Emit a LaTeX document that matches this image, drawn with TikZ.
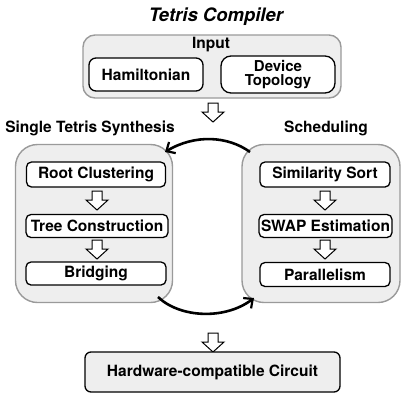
\documentclass[tikz,border=0pt]{standalone}
\usepackage{fontspec}
\setmainfont{TeX Gyre Heros}
\usetikzlibrary{arrows.meta}
\definecolor{boxgray}{HTML}{EEEEEE}
\definecolor{edgegray}{HTML}{9A9A9A}
\begin{document}
\begin{tikzpicture}[x=1pt,y=-1pt,
  outerbox/.style={draw=edgegray,fill=boxgray,line width=1.4pt,rounded corners=22pt},
  innerbox/.style={draw=black,fill=white,line width=1.3pt,rounded corners=5pt,font=\bfseries\fontsize{15.5}{13}\selectfont,align=center,inner sep=0pt},
  lbl/.style={font=\bfseries\fontsize{15.5}{13}\selectfont,inner sep=0pt},
  blockarrow/.pic={\draw[fill=white,line width=1pt,line join=miter] (-5,0) -- (5,0) -- (5,9) -- (11,9) -- (0,19) -- (-11,9) -- (-5,9) -- cycle;},
  flow/.style={line width=2.6pt,-{Straight Barb[length=7pt,width=13pt,line width=2.2pt]}}
]
\useasboundingbox (0,0) rectangle (404,394);
% title
\node[font=\bfseries\itshape\fontsize{18.5}{19}\selectfont] (title) at (216,17) {Tetris Compiler};
% input box
\node[outerbox,rounded corners=12pt,minimum width=258pt,minimum height=63pt] (input) at (212,66.5) {};
\node[lbl] (inputlbl) at (211,45) {Input};
\node[innerbox,minimum width=114pt,minimum height=33pt,rounded corners=7pt] (ham) at (146,74.5) {Hamiltonian};
\node[innerbox,minimum width=114pt,minimum height=37pt,rounded corners=10pt,font=\bfseries\fontsize{15}{14.5}\selectfont] (dev) at (278,74.5) {Device\\Topology};
\pic at (213,103) {blockarrow};
% section labels
\node[lbl] (synlbl) at (90,128) {Single Tetris Synthesis};
\node[lbl] (schlbl) at (326,128) {Scheduling};
% left big box
\node[outerbox,minimum width=157pt,minimum height=158pt] (left) at (94,223.5) {};
\node[innerbox,minimum width=139pt,minimum height=25pt] (root) at (96,174.5) {Root Clustering};
\node[innerbox,minimum width=142pt,minimum height=23pt] (tree) at (97,226) {Tree Construction};
\node[innerbox,minimum width=140pt,minimum height=23pt] (bridge) at (96,273.5) {Bridging};
\pic at (97,191) {blockarrow};
\pic at (97,240) {blockarrow};
% right big box
\node[outerbox,minimum width=158pt,minimum height=158pt] (right) at (321,223.5) {};
\node[innerbox,minimum width=130pt,minimum height=25pt] (sim) at (325,174.5) {Similarity Sort};
\node[innerbox,minimum width=133pt,minimum height=23pt] (swap) at (325.5,226) {SWAP Estimation};
\node[innerbox,minimum width=130pt,minimum height=24pt] (par) at (325,274.5) {Parallelism};
\pic at (325,191) {blockarrow};
\pic at (325,240) {blockarrow};
% loop arrows
\coordinate (rtop) at (250,152);
\coordinate (ltop) at (165,152);
\coordinate (lbot) at (158,297);
\coordinate (rbot) at (254,298);
\draw[flow] (rtop) .. controls (228,136) and (195,134) .. (ltop);
\draw[flow] (lbot) .. controls (180,318) and (225,320) .. (rbot);
% output
\pic at (213,333) {blockarrow};
\node[draw=black,fill=boxgray,line width=1.3pt,rounded corners=6pt,minimum width=255pt,minimum height=40pt,font=\bfseries\fontsize{15.5}{13}\selectfont] (hw) at (212.5,372) {Hardware-compatible Circuit};
\end{tikzpicture}
\end{document}
